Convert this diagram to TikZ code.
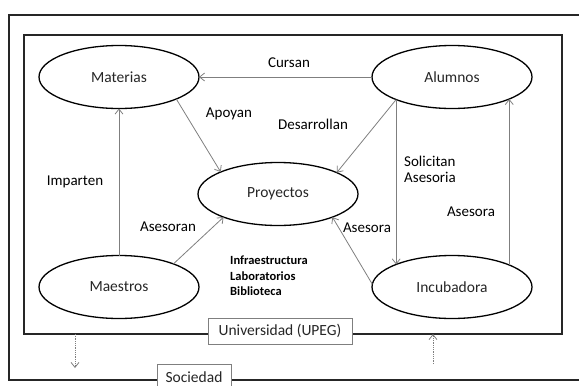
\documentclass[tikz,border=0pt]{standalone}
\usepackage{fontspec}
\setmainfont{Carlito}
\usetikzlibrary{arrows.meta,shapes.geometric}
\definecolor{upegInk}{HTML}{262626}
\definecolor{upegGray}{HTML}{7F7F7F}

\begin{document}
\begin{tikzpicture}[
  x=1pt,y=-1pt,
  >={Straight Barb[length=5pt,width=8pt]},
  actor/.style={ellipse,draw=black,line width=1.3pt,minimum width=160pt,minimum height=63pt,inner sep=0pt,outer sep=0pt,font=\fontsize{15.5}{18}\selectfont,text=upegInk},
  frame/.style={draw=upegInk,line width=1.8pt,inner sep=0pt,outer sep=0pt},
  tag/.style={draw=upegGray,line width=.8pt,fill=white,font=\fontsize{15.5}{18}\selectfont,text=upegInk,inner sep=0pt},
  link/.style={->,draw=upegGray,line width=.8pt},
  weak/.style={->,draw=upegGray,line width=.8pt,densely dotted},
  verb/.style={font=\fontsize{15}{16}\selectfont,text=black,inner sep=0pt,align=left},
  resource/.style={font=\bfseries\fontsize{12.5}{15.5}\selectfont,align=left,inner sep=0pt,anchor=north west}
]
\useasboundingbox (0,0) rectangle (579,386);
\clip (0,0) rectangle (579,386);

% marcos: sociedad (sale por la derecha) y universidad
\node[frame,minimum width=591pt,minimum height=365pt] (soc) at (304.5,197.5) {};
\node[frame,minimum width=538pt,minimum height=299pt] (uni) at (293,184.5) {};

\node[actor] (mat) at (119,77) {Materias};
\node[actor] (alu) at (452,77) {Alumnos};
\node[actor] (pro) at (278,194) {Proyectos};
\node[actor] (mae) at (119,287) {Maestros};
\node[actor] (inc) at (452,287) {Incubadora};

\draw[link] (alu.west) -- (mat.east);
\draw[link] (mat.-21) -- (pro.159);
\draw[link] (alu.-158.8) -- (pro.20);
\draw[link] (mae.north) -- (mat.south);
\draw[link] (mae.23) -- (pro.203);
\draw[link] (inc.178) -- (pro.-23);
\draw[link] (alu.-158.8) -- (inc.158.8);
\draw[link] (inc.21.9) -- (alu.-21.9);

\node[verb] (cursan) at (289,63) {Cursan};
\node[verb] (apoyan) at (229,114) {Apoyan};
\node[verb] (desarr) at (313,124) {Desarrollan};
\node[verb] (imparten) at (75,182) {Imparten};
\node[verb] (asesoran) at (168,227) {Asesoran};
\node[verb] (asesoraA) at (367,228) {Asesora};
\node[verb,anchor=west] (solicitan) at (404,169) {Solicitan\\Asesoria};
\node[verb] (asesoraB) at (471,212) {Asesora};

\node[resource] (res) at (230,256) {Infraestructura\\Laboratorios\\Biblioteca};

\node[tag,minimum width=144pt,minimum height=26pt] (unitag) at (280,331) {Universidad (UPEG)};
\node[tag,minimum width=74pt,minimum height=30pt,anchor=north,text depth=4pt] (soctag) at (194,364) {Sociedad};

% intercambio con la sociedad
\coordinate (haciaFuera) at (75,368);
\coordinate (desdeFuera) at (433,364);
\draw[weak] (uni.south -| haciaFuera) -- (haciaFuera);
\draw[weak] (desdeFuera) -- (uni.south -| desdeFuera);
\end{tikzpicture}
\end{document}
